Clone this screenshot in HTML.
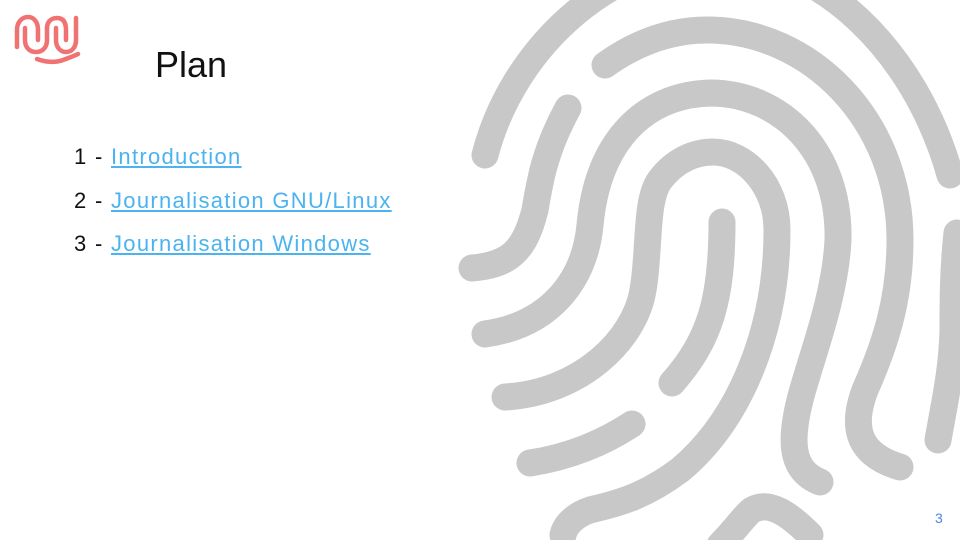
<!DOCTYPE html>
<html><head><meta charset="utf-8"><style>
html,body{margin:0;padding:0;background:#fff;width:960px;height:540px;overflow:hidden;}
body{position:relative;font-family:"Liberation Sans",sans-serif;}
svg{position:absolute;left:0;top:0;}
.t{position:absolute;white-space:nowrap;}
.li{font-size:22px;color:#111;letter-spacing:1.3px;}
.li a{color:#4ab3f0;text-decoration:underline;}
</style></head><body>
<svg width="960" height="540" viewBox="0 0 960 540">
<g fill="none" stroke="#c8c8c8" stroke-width="27" stroke-linecap="round" stroke-linejoin="round">
<path d="M485,155 C515,40 620,-45 720,-42 C820,-40 915,50 950,175"/>
<path d="M605,65 C640,40 675,30 707,30 C810,30 900,120 900,240 C900,300 885,345 865,390 C850,430 860,455 900,467"/>
<path d="M568,108 C545,150 540,180 535,210 C525,250 510,265 472,268"/>
<path d="M485,334 C550,325 585,280 590,225 C598,140 645,95 710,93 C780,93 840,150 838,240 C835,300 810,360 800,400 C790,440 790,470 820,482"/>
<path d="M505,397 C580,393 635,340 643,290 C650,250 645,200 660,180 C675,160 695,152 713,152 C745,152 777,185 777,230 C777,330 740,420 680,470 C640,500 610,505 590,510 C575,515 565,525 563,535"/>
<path d="M722,222 C722,300 710,340 672,383"/>
<path d="M530,463 C570,457 605,442 632,424"/>
<path d="M957,233 C953,270 953,300 953,330 C952,370 945,400 938,440"/>
<path d="M720,545 C735,530 745,515 752,510 C770,500 790,515 810,535"/>
</g>
<g fill="none" stroke="#f07272" stroke-width="4.5" stroke-linecap="round">
<path d="M17,47 V30 C17,22 22,17 28,17 C34,17 38,22 38,30 V40"/>
<path d="M25,28 V40 C25,48 30,52 36,52 C42,52 47,48 47,40 V28"/>
<path d="M47,28 C47,22 51,18 57,18 C63,18 66,22 66,30 V40"/>
<path d="M56,28 V40 C56,48 61,52 66,52 C72,52 76,47 76,40 V18"/>
<path d="M37,59 C45,62 55,63 63,60 C68,58 72,57 78,54"/>
</g>
</svg>
<div class="t" style="left:155px;top:44px;font-size:36px;color:#111;">Plan</div>
<div class="t li" style="left:74px;top:144px;">1 - <a>Introduction</a></div>
<div class="t li" style="left:74px;top:188px;">2 - <a>Journalisation GNU/Linux</a></div>
<div class="t li" style="left:74px;top:231px;">3 - <a>Journalisation Windows</a></div>
<div class="t" style="left:935px;top:510px;font-size:14px;color:#4a86e8;">3</div>
</body></html>
